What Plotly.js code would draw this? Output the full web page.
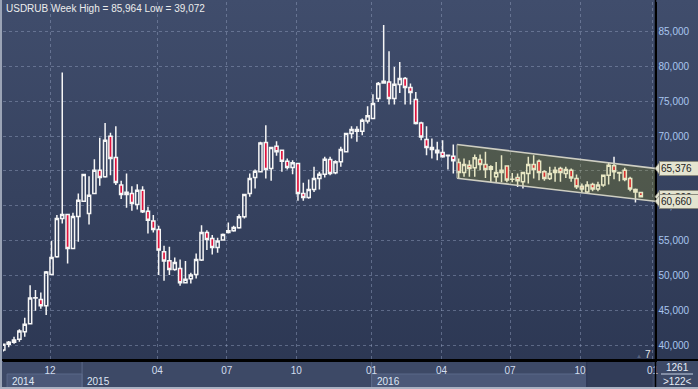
<!DOCTYPE html>
<html>
<head>
<meta charset="utf-8">
<script src="https://cdn.plot.ly/plotly-3.0.1.min.js"></script>
<style>
html,body{margin:0;padding:0;background:#2c3754;}
#chart{width:698px;height:389px;background:linear-gradient(to bottom,#404d6c 0%,#36425f 50%,#2b3652 100%);}
</style>
</head>
<body>
<div id="chart"></div>
<script>
// Weekly USDRUB candles (bar order, oldest first)
const open = [39.28,40.10,40.38,40.81,41.91,43.06,46.75,46.55,45.65,50.14,
52.68,58.18,58.76,53.88,58.47,60.67,58.90,61.77,65.12,64.16,
70.00,66.94,62.97,61.96,61.77,60.19,62.25,59.23,57.80,56.60,
53.40,52.10,50.86,51.00,48.95,49.52,50.14,52.20,56.17,55.30,
54.02,55.07,56.17,56.41,56.84,58.42,61.77,64.07,64.88,69.09,
65.36,68.56,67.99,66.41,65.50,66.08,61.77,61.20,62.34,63.92,
64.55,66.65,64.74,66.32,67.75,70.38,70.96,70.72,72.20,72.54,
75.41,77.66,77.80,75.41,77.42,78.28,76.99,75.26,71.91,69.52,
68.37,67.99,67.66,67.20,67.13,66.22,64.78,65.84,65.45,66.65,
65.93,65.26,64.16,64.78,65.70,63.80,64.07,63.44,64.64,65.93,
66.41,64.88,63.92,64.78,65.36,64.64,65.12,63.92,62.82,62.00,
63.06,62.40,62.97,64.40,65.74,64.70,65.12,63.92,62.35,61.90];
const high = [40.20,40.57,41.20,42.25,43.92,48.60,47.90,47.56,50.62,54.93,
58.66,79.14,58.76,59.00,61.77,64.50,64.26,66.70,69.76,71.91,
70.48,71.43,63.59,64.64,62.82,63.11,62.82,59.86,58.66,57.13,
54.26,54.11,52.58,52.30,52.06,50.38,53.16,57.22,56.50,55.79,
55.40,56.03,57.61,57.13,58.80,61.63,64.64,65.22,69.19,71.58,
68.37,69.28,67.99,66.79,66.56,66.08,63.30,63.78,65.60,64.88,
67.03,67.03,66.56,68.47,70.38,71.43,71.43,72.54,74.31,76.03,
77.80,85.964,82.20,79.95,80.67,78.52,77.56,76.36,72.06,71.43,
69.67,69.19,69.43,67.37,68.80,66.80,66.80,66.56,67.37,67.37,
67.75,65.84,66.30,67.27,65.70,64.70,64.64,64.88,67.03,67.27,
66.65,65.12,65.60,65.60,65.60,65.60,65.36,64.50,63.20,63.54,
63.30,63.44,64.50,66.20,67.03,64.88,65.45,64.16,62.50,62.00];
const low = [39.072,39.67,40.19,40.48,41.20,43.00,44.93,45.20,44.30,50.14,
52.54,57.46,51.72,53.88,54.83,60.57,57.32,61.77,62.87,64.02,
64.40,62.97,60.96,59.71,59.28,59.47,58.95,56.03,56.17,50.05,
49.23,50.05,50.67,48.52,48.85,48.85,49.57,52.06,53.64,53.00,
53.25,54.98,56.03,56.27,56.70,58.18,61.29,62.49,64.88,63.92,
63.59,67.18,64.88,65.22,64.55,60.72,60.72,61.00,62.00,62.34,
64.07,64.40,64.55,65.60,67.75,69.67,69.19,70.14,71.82,72.54,
74.93,77.56,74.55,74.55,76.22,74.55,74.55,71.67,69.43,67.27,
66.80,66.56,66.89,65.20,64.64,63.92,64.16,64.16,64.16,65.12,
64.00,63.40,63.40,63.40,63.40,63.40,62.70,62.50,63.20,63.92,
63.68,63.60,63.70,63.44,63.44,64.00,63.44,62.40,61.90,61.77,
62.10,62.10,62.73,63.06,63.80,63.54,63.54,62.10,60.48,61.20];
const close = [40.10,40.38,40.72,42.00,42.97,46.75,46.80,45.65,50.48,52.58,
58.18,58.76,53.88,58.47,60.81,64.50,61.53,65.12,64.07,69.43,
66.80,63.35,61.63,61.63,60.33,62.25,59.14,57.94,56.60,53.64,
52.06,50.86,51.87,48.95,49.43,50.05,52.30,56.17,55.17,54.02,
54.93,55.88,56.41,56.89,58.42,61.63,63.92,64.98,69.04,65.22,
68.37,67.75,66.41,65.50,66.17,61.77,61.20,62.34,63.92,64.55,
66.70,64.64,66.32,68.09,70.38,70.96,70.72,72.30,72.92,74.69,
77.56,77.90,75.41,77.46,78.28,76.99,76.27,71.82,69.90,68.37,
68.09,67.61,67.03,67.27,66.46,64.78,65.93,65.36,66.89,65.93,
65.20,65.60,64.78,65.12,63.70,63.82,63.60,64.78,65.93,65.20,
64.78,63.92,64.64,65.12,64.78,65.20,64.00,62.73,62.40,62.97,
62.40,62.97,64.40,65.84,64.88,64.80,63.78,62.40,62.00,61.30];

// Axis labels
const monthLabels = ["12","04","07","10","01","04","07","10","01"];
const monthBars   = [8.72,28.75,41.7,54.7,68.75,81.8,94.6,107.65,121.2];
const priceTicks  = [40,45,50,55,60,65,70,75,80,85];
const priceText   = ["40,000","45,000","50,000","55,000","60,000","65,000","70,000","75,000","80,000","85,000"];
const years       = ["2014","2015","2016"];
const yearStartBar= [0.7,14.7,68.75];

// Trend channel drawn on the chart (bar position, price)
const channelBars  = [84.69,121.65];
const channelUpper = [68.8,65.376];
const channelLower = [63.95,60.66];
const lastPrice = 61.30;

const title = "USDRUB Week High = 85,964 Low = 39,072";
const barCountText = "1261";
const visibleText = ">122<";

const bars = open.map((_, i) => i);

// pixel helpers for decorative layout (plot area: x 3..655, y 2..360)
const W = 698, H = 389, ML = 3, MR = 43, MT = 2, MB = 29;
const PW = W - ML - MR, PH = H - MT - MB;
const px = p => (p - ML) / PW;
const py = p => (H - MB - p) / PH;
const xr = [-0.06, 121.65];
const yr = [37.845, 89.28];
const barToPx = b => ML + (b - xr[0]) / (xr[1] - xr[0]) * PW;

const FONT = "Liberation Sans, Arial, sans-serif";
const fmt = v => v.toFixed(3).replace('.', ',');

const trace = {
  type: 'candlestick',
  x: bars, open: open, high: high, low: low, close: close,
  increasing: {line: {color: '#f6f6f6', width: 1.5}, fillcolor: 'rgba(0,0,0,0)'},
  decreasing: {line: {color: '#f6f6f6', width: 1.5}, fillcolor: '#e0123c'},
  whiskerwidth: 0,
  hoverinfo: 'skip'
};

const shapes = [];
// bottom axis panel (below, so tick labels stay visible)
shapes.push({type:'rect', xref:'paper', yref:'paper', x0:px(0), x1:px(698), y0:py(360), y1:py(389),
  fillcolor:'#3d4966', line:{width:0}, layer:'below'});
// year boxes (2014 and 2016 lighter)
const yearEndBar = [14.7, 68.75, 108.9];
[0,2].forEach(i => {
  shapes.push({type:'rect', xref:'paper', yref:'paper',
    x0:px(barToPx(yearStartBar[i])), x1:px(barToPx(yearEndBar[i])), y0:py(374), y1:py(388),
    fillcolor:'#4b5878', line:{color:'#5b6888', width:1}, layer:'below'});
});
// dark scroll region
shapes.push({type:'rect', xref:'paper', yref:'paper', x0:px(barToPx(108.9)), x1:px(652.5), y0:py(360), y1:py(388),
  fillcolor:'#323d59', line:{width:0}, layer:'below'});
// separators
[14.7, 68.75].forEach(b => {
  shapes.push({type:'line', xref:'paper', yref:'paper', x0:px(barToPx(b)), x1:px(barToPx(b)), y0:py(361), y1:py(388),
    line:{color:'#5d6a8a', width:1}, layer:'below'});
});
shapes.push({type:'line', xref:'paper', yref:'paper', x0:px(barToPx(108.9)), x1:px(barToPx(108.9)), y0:py(361), y1:py(388),
  line:{color:'#2a3350', width:1}, layer:'below'});
// black axis lines extended
shapes.push({type:'line', xref:'paper', yref:'paper', x0:px(0), x1:px(698), y0:py(360), y1:py(360),
  line:{color:'#000', width:2}, layer:'above'});
shapes.push({type:'line', xref:'paper', yref:'paper', x0:px(655.5), x1:px(655.5), y0:py(0), y1:py(389),
  line:{color:'#000', width:1.5}, layer:'above'});
// separator line in bottom-right box
shapes.push({type:'line', xref:'paper', yref:'paper', x0:px(661), x1:px(693), y0:py(374), y1:py(374),
  line:{color:'#c8d2e4', width:1}, layer:'above'});
// channel fill
shapes.push({type:'path', xref:'x', yref:'y',
  path:`M ${channelBars[0]},${channelUpper[0]} L ${channelBars[1]},${channelUpper[1]} L ${channelBars[1]},${channelLower[1]} L ${channelBars[0]},${channelLower[0]} Z`,
  fillcolor:'rgba(178,174,0,0.2)', line:{width:0}, layer:'above'});
// channel edges
[[channelUpper[0],channelUpper[1]],[channelLower[0],channelLower[1]]].forEach(p => {
  shapes.push({type:'line', xref:'x', yref:'y', x0:channelBars[0], x1:channelBars[1], y0:p[0], y1:p[1],
    line:{color:'rgb(206,206,194)', width:1.6}, layer:'above'});
});
shapes.push({type:'line', xref:'x', yref:'y', x0:channelBars[0], x1:channelBars[0], y0:channelLower[0], y1:channelUpper[0],
  line:{color:'rgb(170,172,160)', width:1.2}, layer:'above'});
// label tips
[lastPrice, channelUpper[1], channelLower[1]].forEach(v => {
  const d = 6 / (PH / (yr[1] - yr[0]));
  shapes.push({type:'path', xref:'paper', yref:'y',
    path:`M ${px(655)},${v} L ${px(659.5)},${v + d} L ${px(659.5)},${v - d} Z`,
    fillcolor:'#e4e4d0', line:{color:'#8a8a7e', width:0.8}, layer:'above'});
});
// outer frame
shapes.push({type:'rect', xref:'paper', yref:'paper', x0:px(0), x1:px(2), y0:py(0), y1:py(389),
  fillcolor:'#9ba4b6', line:{width:0}, layer:'above'});
shapes.push({type:'rect', xref:'paper', yref:'paper', x0:px(0), x1:px(698), y0:py(387), y1:py(389),
  fillcolor:'#a9b1c2', line:{width:0}, layer:'above'});

const annotations = [];
annotations.push({xref:'paper', yref:'paper', x:px(4), y:py(8.5), xanchor:'left', yanchor:'middle',
  text:title, showarrow:false, font:{family:FONT, size:10, color:'#ececec'}});
years.forEach((t,i) => {
  annotations.push({xref:'paper', yref:'paper', x:px(barToPx(yearStartBar[i]) + 3), y:py(381), xanchor:'left', yanchor:'middle',
    text:t, showarrow:false, font:{family:FONT, size:10, color:'#dfe7f5'}});
});
annotations.push({xref:'paper', yref:'paper', x:px(677), y:py(367), xanchor:'center', yanchor:'middle',
  text:barCountText, showarrow:false, font:{family:FONT, size:10, color:'#e6ecf6'}});
annotations.push({xref:'paper', yref:'paper', x:px(677), y:py(381), xanchor:'center', yanchor:'middle',
  text:visibleText.replace(/</g,'&lt;').replace(/>/g,'&gt;'), showarrow:false, font:{family:FONT, size:10, color:'#e6ecf6'}});
annotations.push({xref:'paper', yref:'paper', x:px(647.5), y:py(354), xanchor:'center', yanchor:'middle',
  text:'7', showarrow:false, font:{family:FONT, size:10, color:'#e8e8e8'}});
annotations.push({xref:'paper', yref:'paper', x:px(639), y:py(356), xanchor:'center', yanchor:'middle',
  text:'▲', showarrow:false, font:{family:FONT, size:6, color:'#56617c'}});
// price labels (last price hidden under channel label, as in the terminal)
[[lastPrice,-0.15],[channelUpper[1],0],[channelLower[1],0]].forEach(([v,off]) => {
  annotations.push({xref:'paper', yref:'y', x:px(659), y:v + off, xanchor:'left', yanchor:'middle',
    text:fmt(v), showarrow:false, font:{family:FONT, size:10, color:'#1c1c1c'},
    bgcolor:'#e4e4d0', bordercolor:'#8a8a7e', borderwidth:1, borderpad:1, width:36, align:'left'});
});

const layout = {
  width: W, height: H,
  margin: {l: ML, r: MR, t: MT, b: MB, pad: 0},
  paper_bgcolor: 'rgba(0,0,0,0)', plot_bgcolor: 'rgba(0,0,0,0)',
  showlegend: false, boxgap: 0.15,
  font: {family: FONT, size: 10},
  xaxis: {
    range: xr, type: 'linear', tickmode: 'array', tickvals: monthBars, ticktext: monthLabels,
    showgrid: true, gridcolor: 'rgba(150,165,195,0.45)', griddash: '3px,3px', gridwidth: 1,
    zeroline: false, showline: true, linecolor: '#000', linewidth: 2, ticks: '',
    tickfont: {family: FONT, size: 10, color: '#d2ddef'},
    rangeslider: {visible: false}, fixedrange: true
  },
  yaxis: {
    range: yr, side: 'right', tickmode: 'array', tickvals: priceTicks, ticktext: priceText,
    showgrid: true, gridcolor: 'rgba(150,165,195,0.45)', griddash: '3px,3px', gridwidth: 1,
    zeroline: false, showline: true, linecolor: '#000', linewidth: 1.5, ticks: '',
    tickfont: {family: FONT, size: 10, color: '#a9c6ef'}, fixedrange: true
  },
  shapes: shapes,
  annotations: annotations
};

Plotly.newPlot('chart', [trace], layout, {staticPlot: true, displayModeBar: false});
</script>
</body>
</html>
